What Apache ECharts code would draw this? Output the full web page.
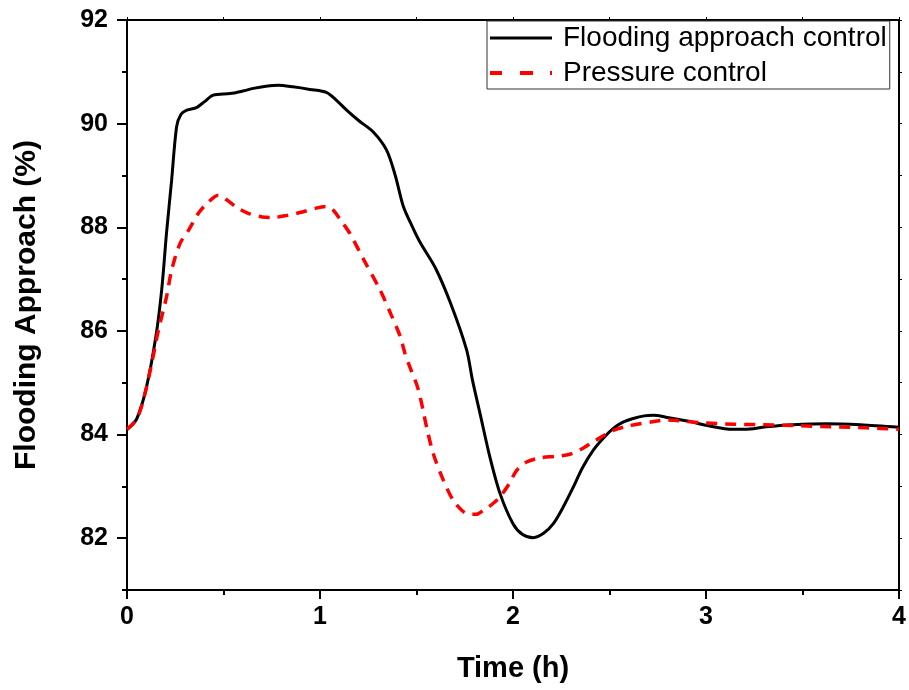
<!DOCTYPE html>
<html><head><meta charset="utf-8">
<script src="https://cdn.jsdelivr.net/npm/echarts@6/dist/echarts.min.js"></script>
<style>html,body{margin:0;padding:0;background:#fff}#c{width:909px;height:690px}</style>
</head><body><div id="c"></div>
<script>
const floodT = [0,0.05,0.1,0.15,0.18,0.205,0.231,0.257,0.28,0.31,0.36,0.40,0.447,0.534,0.60,0.655,0.72,0.784,0.86,0.948,1.035,1.08,1.138,1.2,1.276,1.345,1.39,1.432,1.48,1.52,1.6,1.68,1.76,1.79,1.829,1.88,1.933,2.0,2.05,2.105,2.16,2.209,2.26,2.313,2.36,2.416,2.47,2.52,2.57,2.623,2.68,2.727,2.8,2.917,3.0,3.14,3.2,3.31,3.45,3.625,3.8,4.0];
const floodV = [84.1,84.3,84.9,85.9,86.8,87.9,88.9,89.94,90.18,90.26,90.31,90.42,90.55,90.58,90.63,90.68,90.72,90.74,90.71,90.66,90.6,90.47,90.26,90.06,89.84,89.49,89.0,88.4,88.0,87.7,87.2,86.5,85.63,85.05,84.41,83.57,82.86,82.28,82.07,82.01,82.1,82.28,82.6,82.99,83.36,83.70,83.94,84.12,84.24,84.31,84.36,84.37,84.33,84.25,84.18,84.10,84.10,84.15,84.19,84.21,84.19,84.14];
const pressT = [0,0.05,0.085,0.128,0.162,0.205,0.231,0.275,0.32,0.37,0.42,0.473,0.516,0.57,0.628,0.7,0.758,0.83,0.914,0.98,1.035,1.069,1.11,1.155,1.23,1.31,1.37,1.415,1.44,1.466,1.51,1.552,1.587,1.639,1.69,1.74,1.777,1.81,1.847,1.89,1.933,1.98,2.019,2.07,2.14,2.22,2.295,2.36,2.416,2.47,2.52,2.59,2.658,2.73,2.796,2.969,3.142,3.3,3.487,3.65,3.83,4.0];
const pressV = [84.1,84.3,84.67,85.37,86.0,86.66,87.17,87.69,87.95,88.27,88.48,88.62,88.53,88.38,88.27,88.2,88.19,88.23,88.3,88.37,88.4,88.33,88.12,87.88,87.35,86.8,86.3,85.9,85.57,85.3,84.86,84.15,83.63,83.12,82.73,82.52,82.46,82.46,82.54,82.65,82.8,83.05,83.31,83.47,83.55,83.58,83.62,83.73,83.86,83.98,84.08,84.16,84.21,84.25,84.28,84.23,84.20,84.19,84.17,84.15,84.13,84.10];
const seriesNames = ['Flooding approach control','Pressure control'];
const xTitle = 'Time (h)';
const yTitle = 'Flooding Approach (%)';
const yMajorTicks = [82,84,86,88,90,92];
const yMinorTicks = [81,83,85,87,89,91];

const zip = (a,b)=>a.map((t,i)=>[t,b[i]]);
const sans = '"Liberation Sans",Arial,sans-serif';
const lineAx = {show:true,onZero:false,lineStyle:{color:'#000',width:2}};
const chart = echarts.init(document.getElementById('c'));
chart.setOption({
  animation:false,
  backgroundColor:'#fff',
  grid:{left:127,right:10,top:20,bottom:100},
  legend:{
    orient:'vertical',left:487,top:21,
    data:[
      {name:seriesNames[0],icon:'path://M0,0H62V3H0Z'},
      {name:seriesNames[1],icon:'path://M0,0H12V4H0Z M30,0H43V4H30Z M60,0H62V4H60Z'}
    ],
    itemWidth:62,itemHeight:4,itemGap:7,
    padding:[3,3,2,3],
    borderColor:'#333',borderWidth:1,
    textStyle:{fontFamily:sans,fontSize:28,color:'#000',padding:[0,0,0,6]}
  },
  xAxis:[
    {type:'value',min:0,max:4,interval:1,position:'bottom',
      name:xTitle,nameLocation:'middle',nameGap:64,
      nameTextStyle:{fontFamily:sans,fontWeight:'bold',fontSize:29,color:'#000'},
      axisLine:lineAx,
      axisTick:{show:true,inside:false,length:9,lineStyle:{color:'#000',width:2}},
      minorTick:{show:true,splitNumber:2,length:5,lineStyle:{color:'#000',width:2}},
      splitLine:{show:false},
      axisLabel:{fontFamily:sans,fontWeight:'bold',fontSize:25,color:'#000',margin:15}},
    {type:'value',min:0,max:4,interval:1,position:'top',
      axisLine:lineAx,
      axisTick:{show:true,length:3,lineStyle:{color:'#000',width:1}},
      minorTick:{show:true,splitNumber:2,length:3,lineStyle:{color:'#000',width:1}},
      splitLine:{show:false},axisLabel:{show:false}}
  ],
  yAxis:[
    {type:'value',min:81,max:92,interval:1,position:'left',
      name:yTitle,nameLocation:'middle',nameGap:85,
      nameTextStyle:{fontFamily:sans,fontWeight:'bold',fontSize:30,color:'#000'},
      axisLine:lineAx,
      axisTick:{show:true,inside:false,length:10,customValues:yMajorTicks,lineStyle:{color:'#000',width:2}},
      splitLine:{show:false},
      axisLabel:{fontFamily:sans,fontWeight:'bold',fontSize:25,color:'#000',margin:19,customValues:yMajorTicks}},
    {type:'value',min:81,max:92,interval:1,position:'left',
      axisLine:{show:false},
      axisTick:{show:true,inside:false,length:5,customValues:yMinorTicks,lineStyle:{color:'#000',width:2}},
      splitLine:{show:false},axisLabel:{show:false}},
    {type:'value',min:81,max:92,interval:1,position:'right',
      axisLine:lineAx,
      axisTick:{show:true,length:3,lineStyle:{color:'#000',width:1}},
      splitLine:{show:false},axisLabel:{show:false}}
  ],
  series:[
    {name:seriesNames[0],type:'line',data:zip(floodT,floodV),smooth:0.3,showSymbol:false,symbol:'none',
      lineStyle:{color:'#000',width:3},itemStyle:{color:'#000'},z:3},
    {name:seriesNames[1],type:'line',data:zip(pressT,pressV),smooth:0.3,showSymbol:false,symbol:'none',
      lineStyle:{color:'#ff0000',width:3.5,type:[11,8]},itemStyle:{color:'#ff0000'},z:4}
  ]
});
</script></body></html>
